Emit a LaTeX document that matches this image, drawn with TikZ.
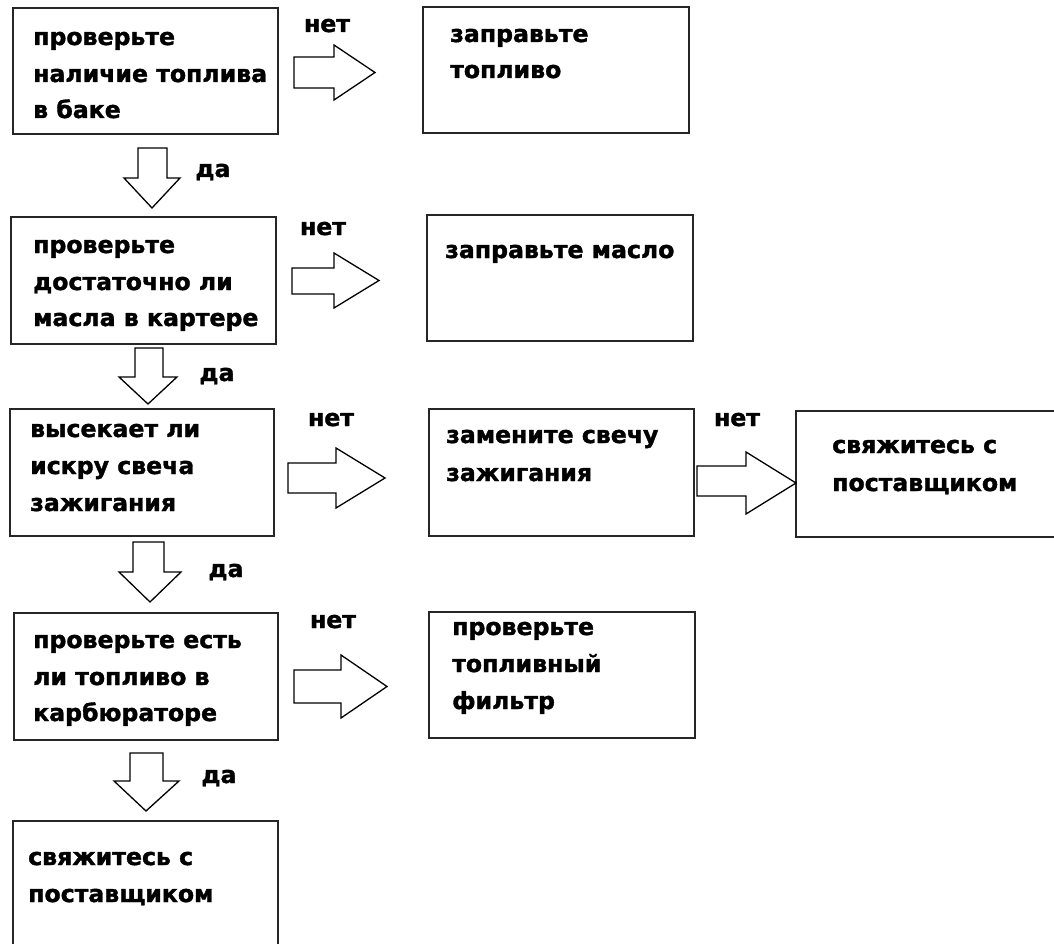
\documentclass[tikz,border=0pt]{standalone}
\usepackage{fontspec}
\setmainfont{DejaVu Sans}[BoldFeatures={FakeBold=1.5}]
\begin{document}
\begin{tikzpicture}[x=1pt,y=-1pt,
  box/.style={draw=black!85, line width=2pt, fill=white, inner sep=0pt, anchor=north west},
  txt/.style={anchor=base west, inner sep=0pt, font=\bfseries\fontsize{23.6}{28}\selectfont},
  lbl/.style={anchor=base, inner sep=0pt, font=\bfseries\fontsize{23.6}{28}\selectfont},
  barrow/.style={draw=black, line width=1.3pt, line join=miter, fill=white}]
\useasboundingbox (0,0) rectangle (1054,944);
\fill[white] (0,0) rectangle (1054,944);
\clip (0,0) rectangle (1054,944);

% boxes
\node[box, minimum width=265pt, minimum height=126pt] (A) at (12,7) {};
\node[box, minimum width=266pt, minimum height=126pt] (B) at (422,6) {};
\node[box, minimum width=265pt, minimum height=127pt] (C) at (10,216) {};
\node[box, minimum width=266pt, minimum height=126pt] (D) at (426,214) {};
\node[box, minimum width=264pt, minimum height=127pt] (E) at (9,408) {};
\node[box, minimum width=265pt, minimum height=127pt] (F) at (428,408) {};
\node[box, minimum width=280pt, minimum height=126pt] (G) at (795,410) {};
\node[box, minimum width=264pt, minimum height=127pt] (H) at (13,612) {};
\node[box, minimum width=266pt, minimum height=126pt] (I) at (428,611) {};
\node[box, minimum width=265pt, minimum height=145pt] (J) at (12,820) {};

% texts
\node[txt] (a1) at (33,45) {проверьте};
\node[txt] (a2) at (33,82) {наличие топлива};
\node[txt] (a3) at (33,118) {в баке};
\node[txt] (b1) at (450,42) {заправьте};
\node[txt] (b2) at (450,78) {топливо};
\node[txt] (c1) at (33,253) {проверьте};
\node[txt] (c2) at (33,290) {достаточно ли};
\node[txt] (c3) at (33,326) {масла в картере};
\node[txt] (d1) at (445,258) {заправьте масло};
\node[txt] (e1) at (30,437) {высекает ли};
\node[txt] (e2) at (30,474) {искру свеча};
\node[txt] (e3) at (30,511) {зажигания};
\node[txt] (f1) at (446,443) {замените свечу};
\node[txt] (f2) at (446,481) {зажигания};
\node[txt] (g1) at (832,453) {свяжитесь с};
\node[txt] (g2) at (832,491) {поставщиком};
\node[txt] (h1) at (33,648) {проверьте есть};
\node[txt] (h2) at (33,685) {ли топливо в};
\node[txt] (h3) at (33,721) {карбюраторе};
\node[txt] (i1) at (452,635) {проверьте};
\node[txt] (i2) at (452,672) {топливный};
\node[txt] (i3) at (452,709) {фильтр};
\node[txt] (j1) at (28,865) {свяжитесь с};
\node[txt] (j2) at (28,902) {поставщиком};

% right block arrows
\draw[barrow] (294,57) -- (334,57) -- (334,45) -- (375,72.5) -- (334,100) -- (334,88) -- (294,88) -- cycle;
\draw[barrow] (292,268) -- (334,268) -- (334,253) -- (379,280.5) -- (334,308) -- (334,294) -- (292,294) -- cycle;
\draw[barrow] (288,463) -- (336,463) -- (336,448) -- (385,478) -- (336,508) -- (336,493) -- (288,493) -- cycle;
\draw[barrow] (697,466) -- (746,466) -- (746,452) -- (796,483) -- (746,514) -- (746,496) -- (697,496) -- cycle;
\draw[barrow] (294,670) -- (341,670) -- (341,655) -- (387,686.5) -- (341,718) -- (341,703) -- (294,703) -- cycle;

% down block arrows
\draw[barrow] (138,148) -- (167,148) -- (167,178) -- (180,178) -- (152,208) -- (124,178) -- (138,178) -- cycle;
\draw[barrow] (135,348) -- (163,348) -- (163,377) -- (177,377) -- (148,404) -- (119,377) -- (135,377) -- cycle;
\draw[barrow] (133,542) -- (164,542) -- (164,572) -- (181,572) -- (150,602) -- (119,572) -- (133,572) -- cycle;
\draw[barrow] (130,753) -- (163,753) -- (163,781) -- (179,781) -- (146,811) -- (114,781) -- (130,781) -- cycle;

% labels
\node[lbl] (n1) at (327,32) {нет};
\node[lbl] (n2) at (323,235) {нет};
\node[lbl] (n3) at (331,426) {нет};
\node[lbl] (n4) at (737,426) {нет};
\node[lbl] (n5) at (333,628) {нет};
\node[lbl] (y1) at (213,177) {да};
\node[lbl] (y2) at (217,381) {да};
\node[lbl] (y3) at (226,577) {да};
\node[lbl] (y4) at (219,783) {да};
\end{tikzpicture}
\end{document}
